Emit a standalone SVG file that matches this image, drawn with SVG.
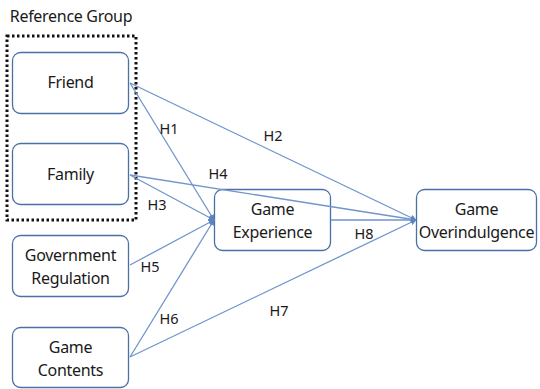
<svg xmlns="http://www.w3.org/2000/svg" width="540" height="389" viewBox="0 0 540 389">
<style>
.box{fill:#fff;stroke:#4a70a8;stroke-width:1.3}
.t{font-family:"Noto Sans","Liberation Sans",sans-serif;font-size:16px;fill:#1a1a1a;text-anchor:middle;letter-spacing:-0.3px}
.l{font-family:"Noto Sans","Liberation Sans",sans-serif;font-size:14.5px;fill:#1a1a1a;text-anchor:middle}
.c{stroke:#6f95cc;stroke-width:1.3;fill:none}
</style>
<defs>
<marker id="a" viewBox="0 0 10 10" refX="9" refY="5" markerWidth="6" markerHeight="6" orient="auto" markerUnits="userSpaceOnUse">
<path d="M0,0 L10,5 L0,10 z" fill="#5b84c0"/>
</marker>
</defs>
<rect width="540" height="389" fill="#fff"/>
<text x="71" y="22" class="t">Reference Group</text>
<rect x="7" y="36" width="129" height="184" fill="none" stroke="#111" stroke-width="3" stroke-dasharray="2.5,2.5"/>
<g id="friend"><rect class="box" x="12.5" y="52.5" width="116" height="61" rx="8"/><text class="t" x="70.5" y="88">Friend</text></g>
<g id="family"><rect class="box" x="12.5" y="143.5" width="116" height="61" rx="8"/><text class="t" x="70.5" y="180">Family</text></g>
<g id="government"><rect class="box" x="12.5" y="235.5" width="116" height="61" rx="8"/><text class="t" x="70.5" y="261">Government</text><text class="t" x="70.5" y="284">Regulation</text></g>
<g id="contents"><rect class="box" x="12.5" y="327.5" width="116" height="60" rx="8"/><text class="t" x="70.5" y="353">Game</text><text class="t" x="70.5" y="376">Contents</text></g>
<g id="experience"><rect class="box" x="214.5" y="189.5" width="116" height="61" rx="8"/><text class="t" x="272.5" y="215">Game</text><text class="t" x="272.5" y="238">Experience</text></g>
<g id="overindulgence"><rect class="box" x="416.5" y="189.5" width="120" height="61" rx="8"/><text class="t" x="476.5" y="215">Game</text><text class="t" x="476.5" y="238">Overindulgence</text></g>
<g id="connectors">
<line class="c" x1="130" y1="83" x2="214" y2="220" marker-end="url(#a)"/>
<line class="c" x1="130" y1="83" x2="416" y2="220" marker-end="url(#a)"/>
<line class="c" x1="130" y1="175" x2="214" y2="220" marker-end="url(#a)"/>
<line class="c" x1="130" y1="175" x2="416" y2="220" marker-end="url(#a)"/>
<line class="c" x1="130" y1="265" x2="214" y2="220" marker-end="url(#a)"/>
<line class="c" x1="130" y1="357" x2="214" y2="220" marker-end="url(#a)"/>
<line class="c" x1="130" y1="357" x2="416" y2="220" marker-end="url(#a)"/>
<line class="c" x1="331" y1="220" x2="416" y2="220" marker-end="url(#a)"/>
<text class="l" x="169" y="134">H1</text>
<text class="l" x="273" y="141">H2</text>
<text class="l" x="157" y="210">H3</text>
<text class="l" x="218" y="179">H4</text>
<text class="l" x="150" y="272">H5</text>
<text class="l" x="169" y="324">H6</text>
<text class="l" x="279" y="316">H7</text>
<text class="l" x="364" y="239">H8</text>
</g>
</svg>
